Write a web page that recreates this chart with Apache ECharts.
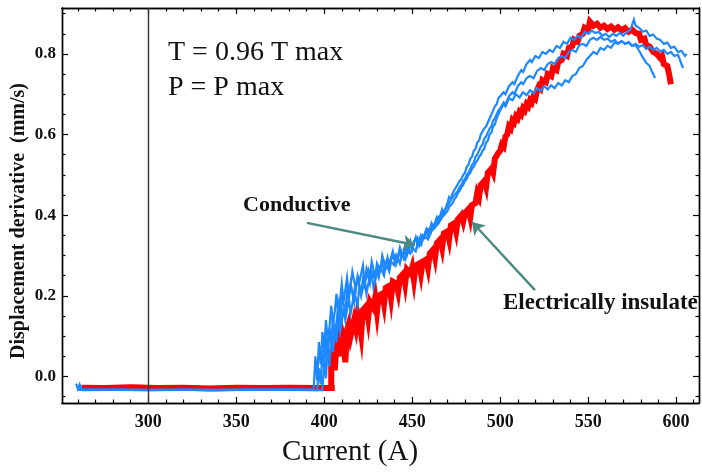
<!DOCTYPE html>
<html>
<head>
<meta charset="utf-8">
<script src="https://cdn.jsdelivr.net/npm/echarts@6/dist/echarts.min.js"></script>
<style>
  * { margin: 0; padding: 0; }
  #chart { width: 702px; height: 473px; background: #fff; }
</style>
</head>
<body>
<div id="chart"></div>
<script>
// axis ranges and ticks
const xMin = 251, xMax = 613;
const yMin = -0.066, yMax = 0.914;
const xTicks = [300, 350, 400, 450, 500, 550, 600];
const yTicks = [0, 0.2, 0.4, 0.6, 0.8];

// electrically insulated run (red)
const insulated = [
  [262,-0.028],[275,-0.029],[290,-0.027],[305,-0.029],[320,-0.028],[335,-0.030],[350,-0.028],[365,-0.029],[380,-0.028],[395,-0.029],[406,-0.029],[404,-0.029],
  [404,0.030],[405,0.070],[406,0.015],[407,0.080],[408,0.100],[409,0.050],[410,0.110],[411,0.090],[412,0.035],[413,0.115],[414,0.130],[415,0.100],
  [417,0.140],[418,0.120],[419,0.155],[420,0.135],[421,0.105],[422,0.165],[424,0.175],[425,0.145],[426,0.185],[428,0.170],[429,0.195],[430,0.160],
  [431,0.200],[433,0.205],[434,0.180],[435,0.220],[437,0.225],[438,0.195],[439,0.235],[441,0.230],[442,0.210],[443,0.245],[445,0.255],[446,0.230],
  [447,0.265],[449,0.255],[450,0.270],[451,0.240],[452,0.275],[454,0.280],[455,0.255],[456,0.285],[458,0.290],[459,0.270],[460,0.305],[462,0.315],
  [463,0.295],[464,0.330],[466,0.340],[467,0.320],[468,0.355],[470,0.360],[471,0.340],[472,0.375],[474,0.380],[475,0.360],[476,0.390],[478,0.400],
  [479,0.385],[480,0.405],[482,0.415],[483,0.395],[484,0.425],[486,0.430],[487,0.455],[488,0.445],[489,0.475],[491,0.485],[492,0.470],[493,0.505],
  [495,0.515],[496,0.505],[497,0.540],[499,0.555],[500,0.560],[501,0.575],[502,0.570],[503,0.595],[504,0.600],[505,0.620],[506,0.615],[507,0.635],
  [508,0.630],[509,0.645],[510,0.640],[511,0.655],[512,0.650],[513,0.665],[514,0.660],[515,0.675],[516,0.670],[517,0.685],[518,0.680],[519,0.695],
  [520,0.690],[521,0.710],[522,0.720],[523,0.715],[524,0.735],[526,0.730],[527,0.750],[529,0.745],[530,0.765],[532,0.760],[533,0.780],[535,0.785],
  [536,0.800],[538,0.795],[539,0.815],[541,0.820],[542,0.835],[544,0.830],[545,0.845],[547,0.850],[548,0.865],[550,0.860],[551,0.880],[553,0.870],
  [555,0.875],[557,0.865],[559,0.870],[561,0.862],[563,0.868],[565,0.860],[567,0.866],[569,0.858],[571,0.864],[573,0.855],[575,0.860],[577,0.852],
  [579,0.850],[580,0.835],[582,0.838],[583,0.822],[585,0.818],[587,0.805],[589,0.800],[591,0.790],[592,0.795],[593,0.775],[595,0.770],[596,0.750],
  [597,0.725]
];

// conductive runs (blue)
const conductiveA = [
  [259,-0.018],[260,-0.031],[261,-0.020],[262,-0.033],[280,-0.033],[300,-0.034],[320,-0.033],[340,-0.034],[360,-0.033],[380,-0.033],[394,-0.033],
  [395,0.050],[396,-0.010],[397,0.085],[398,0.030],[399,0.110],[400,0.060],[401,0.140],[402,0.090],[403,0.120],[404,0.175],[405,0.130],[406,0.160],
  [407,0.205],[408,0.150],[409,0.190],[410,0.230],[411,0.185],[413,0.245],[414,0.200],[415,0.225],[416,0.260],[418,0.215],[419,0.250],[420,0.235],
  [422,0.275],[423,0.230],[425,0.265],[426,0.250],[427,0.285],[429,0.245],[430,0.280],[432,0.265],[433,0.300],[435,0.270],[436,0.290],[437,0.280],
  [439,0.310],[440,0.285],[442,0.300],[443,0.320],[445,0.295],[446,0.325],[448,0.310],[449,0.335],[450,0.320],[452,0.345],[453,0.325],[455,0.350],
  [456,0.340],[458,0.365],[459,0.350],[461,0.380],[462,0.370],[464,0.395],[465,0.385],[467,0.415],[468,0.405],[470,0.430],[471,0.445],[472,0.440],
  [473,0.455],[474,0.455],[475,0.470],[476,0.470],[477,0.485],[478,0.490],[479,0.500],[480,0.505],[481,0.520],[482,0.525],[483,0.540],[484,0.545],
  [485,0.560],[486,0.565],[487,0.580],[488,0.585],[489,0.600],[490,0.600],[491,0.615],[492,0.620],[493,0.630],[494,0.640],[495,0.650],[496,0.660],
  [497,0.670],[498,0.675],[499,0.690],[500,0.695],[502,0.705],[503,0.700],[505,0.720],[507,0.730],[508,0.725],[510,0.745],[512,0.760],[513,0.755],
  [515,0.775],[517,0.785],[518,0.780],[520,0.795],[522,0.790],[524,0.805],[526,0.800],[528,0.810],[530,0.805],[532,0.820],[534,0.815],[536,0.830],
  [538,0.825],[540,0.840],[542,0.835],[544,0.845],[546,0.840],[548,0.855],[550,0.850],[552,0.858],[554,0.852],[556,0.855],[558,0.845],[560,0.850],
  [562,0.842],[564,0.850],[566,0.845],[568,0.852],[570,0.845],[572,0.855],[574,0.860],[576,0.885],[577,0.870],[579,0.865],[581,0.855],[583,0.858],
  [585,0.845],[587,0.848],[589,0.838],[591,0.835],[593,0.825],[595,0.828],[597,0.815],[599,0.818],[601,0.805],[603,0.808],[605,0.795],[606,0.800]
];

const conductiveB = [
  [260,-0.032],[263,-0.034],[300,-0.033],[340,-0.034],[380,-0.033],[396,-0.034],
  [397,0.020],[398,-0.020],[399,0.065],[400,0.020],[401,0.095],[402,0.050],[403,0.120],[404,0.080],[405,0.150],[406,0.100],[407,0.135],[408,0.175],
  [409,0.130],[410,0.195],[412,0.160],[413,0.210],[414,0.190],[415,0.230],[417,0.185],[418,0.225],[419,0.245],[421,0.205],[422,0.240],[423,0.225],
  [424,0.265],[426,0.230],[427,0.260],[429,0.240],[430,0.275],[431,0.255],[433,0.285],[434,0.260],[436,0.295],[437,0.270],[438,0.290],[440,0.300],
  [441,0.280],[443,0.310],[444,0.295],[446,0.320],[447,0.300],[449,0.330],[450,0.315],[451,0.335],[453,0.345],[454,0.325],[456,0.350],[457,0.345],
  [459,0.365],[460,0.360],[462,0.375],[463,0.370],[465,0.395],[466,0.390],[468,0.410],[469,0.415],[470,0.415],[471,0.430],[472,0.430],[473,0.445],
  [474,0.445],[475,0.455],[476,0.460],[477,0.470],[478,0.475],[479,0.485],[480,0.490],[481,0.500],[482,0.505],[483,0.515],[484,0.525],[485,0.530],
  [486,0.545],[487,0.550],[488,0.560],[489,0.570],[490,0.575],[491,0.590],[492,0.595],[493,0.605],[494,0.615],[495,0.620],[496,0.635],[497,0.640],
  [498,0.650],[499,0.660],[500,0.665],[502,0.680],[503,0.675],[505,0.695],[507,0.705],[508,0.700],[510,0.720],[512,0.730],[513,0.725],[515,0.740],
  [517,0.745],[519,0.740],[521,0.758],[523,0.765],[525,0.760],[527,0.775],[529,0.780],[531,0.775],[533,0.790],[535,0.795],[537,0.790],[539,0.805],
  [541,0.810],[543,0.805],[545,0.822],[547,0.825],[549,0.820],[551,0.835],[553,0.840],[555,0.835],[557,0.842],[559,0.835],[561,0.838],[563,0.830],
  [565,0.835],[567,0.826],[569,0.832],[571,0.825],[573,0.830],[575,0.820],[577,0.825],[579,0.818],[581,0.822],[583,0.812],[585,0.818],[587,0.810],
  [589,0.815],[591,0.806],[593,0.810],[595,0.800],[597,0.805],[599,0.795],[601,0.798],[602,0.788],[603,0.775],[604,0.765]
];

const conductiveC = [
  [260,-0.033],[300,-0.034],[350,-0.033],[399,-0.034],
  [400,0.040],[401,-0.005],[402,0.075],[403,0.025],[404,0.105],[405,0.060],[406,0.125],[407,0.085],[408,0.150],[409,0.110],[410,0.135],[411,0.170],
  [412,0.140],[414,0.195],[415,0.155],[416,0.180],[417,0.210],[419,0.175],[420,0.225],[421,0.200],[423,0.240],[424,0.205],[425,0.230],[427,0.255],
  [428,0.220],[430,0.260],[431,0.245],[432,0.270],[434,0.250],[435,0.280],[437,0.260],[438,0.285],[440,0.275],[441,0.300],[443,0.280],[444,0.305],
  [446,0.290],[447,0.315],[449,0.305],[450,0.320],[452,0.310],[453,0.330],[455,0.325],[456,0.340],[458,0.345],[459,0.340],[461,0.360],[462,0.365],
  [464,0.375],[465,0.380],[467,0.395],[468,0.395],[470,0.410],[471,0.420],[472,0.425],[473,0.430],[474,0.440],[475,0.445],[476,0.455],[477,0.460],
  [478,0.470],[479,0.475],[480,0.485],[481,0.490],[482,0.500],[483,0.505],[484,0.515],[485,0.520],[486,0.530],[487,0.535],[488,0.545],[489,0.550],
  [490,0.560],[491,0.565],[492,0.580],[493,0.585],[494,0.600],[495,0.605],[496,0.620],[497,0.625],[498,0.640],[499,0.650],[500,0.660],[501,0.668],
  [502,0.675],[503,0.670],[505,0.690],[507,0.685],[509,0.700],[511,0.692],[513,0.705],[515,0.698],[517,0.710],[519,0.702],[521,0.715],[523,0.708],
  [525,0.720],[527,0.712],[529,0.722],[531,0.715],[533,0.728],[535,0.722],[537,0.735],[539,0.730],[541,0.745],[543,0.750],[545,0.765],[547,0.770],
  [549,0.785],[551,0.795],[553,0.805],[555,0.800],[557,0.815],[559,0.810],[561,0.820],[563,0.815],[565,0.828],[567,0.825],[569,0.832],[571,0.825],
  [573,0.828],[575,0.820],[577,0.822],[579,0.808],[581,0.792],[582,0.795],[583,0.778],[585,0.770],[586,0.758],[587,0.750],[588,0.740]
];

// annotation arrows, [tail, head] in data units
const arrowConductive = [[390.2, 0.381], [451.6, 0.326]];
const arrowInsulated = [[519.8, 0.214], [484.0, 0.383]];

const RED = "#ff0000";
const BLUE = "#1e88ff";
const ARROW = "#4a8a80";
const serif = "Liberation Serif";

// minor tick positions (no labels)
const xMinor = [];
for (let v = 260; v <= 610; v += 10) if (v % 50 !== 0) xMinor.push(v);
const yMinor = [];
for (let i = -1; i <= 18; i++) { const v = +(i * 0.05).toFixed(2); if (i % 4 !== 0) yMinor.push(v); }

function xAxisDef(pos, vals, len, labels) {
  return {
    type: "value", position: pos, min: xMin, max: xMax,
    axisLine: { show: true, onZero: false, lineStyle: { color: "#000", width: 1.4 } },
    axisTick: { show: true, inside: true, length: len, customValues: vals, lineStyle: { color: "#000", width: 1.2 } },
    axisLabel: {
      show: labels, customValues: vals, margin: 10,
      fontFamily: serif, fontWeight: "bold", fontSize: 18, color: "#111"
    },
    splitLine: { show: false }
  };
}
function yAxisDef(pos, vals, len, labels) {
  return {
    type: "value", position: pos, min: yMin, max: yMax,
    axisLine: { show: true, onZero: false, lineStyle: { color: "#000", width: 1.4 } },
    axisTick: { show: true, inside: true, length: len, customValues: vals, lineStyle: { color: "#000", width: 1.2 } },
    axisLabel: {
      show: labels, customValues: vals, margin: 6,
      formatter: (v) => v.toFixed(1),
      fontFamily: serif, fontWeight: "bold", fontSize: 17, color: "#111"
    },
    splitLine: { show: false }
  };
}

const chart = echarts.init(document.getElementById("chart"), null, { renderer: "canvas" });

const lineSeries = (data, color, width, extra) => Object.assign({
  type: "line", data: data, showSymbol: false, symbol: "none",
  xAxisIndex: 0, yAxisIndex: 0, animation: false,
  lineStyle: { color: color, width: width, join: "miter" }
}, extra || {});

const option = {
  animation: false,
  grid: { left: 62, right: 3, top: 8, bottom: 70 },
  xAxis: [
    xAxisDef("bottom", xTicks, 6, true),
    xAxisDef("bottom", xMinor, 3.5, false),
    xAxisDef("top", xTicks, 6, false),
    xAxisDef("top", xMinor, 3.5, false)
  ],
  yAxis: [
    yAxisDef("left", yTicks, 6, true),
    yAxisDef("left", yMinor, 3.5, false),
    yAxisDef("right", yTicks, 6, false),
    yAxisDef("right", yMinor, 3.5, false)
  ],
  series: [
    lineSeries(insulated, RED, 6, {
      markLine: {
        silent: true, symbol: "none", animation: false,
        label: { show: false },
        lineStyle: { color: "#333", width: 1.4, type: "solid" },
        data: [{ xAxis: 300 }]
      }
    }),
    lineSeries(conductiveA, BLUE, 2.2),
    lineSeries(conductiveB, BLUE, 2.2),
    lineSeries(conductiveC, BLUE, 2.2, {
      markLine: {
        silent: true, animation: false,
        symbol: ["none", "arrow"], symbolSize: 12,
        label: { show: false },
        itemStyle: { color: ARROW },
        lineStyle: { color: ARROW, width: 2.4, type: "solid" },
        data: [
          [{ coord: arrowConductive[0] }, { coord: arrowConductive[1] }],
          [{ coord: arrowInsulated[0] }, { coord: arrowInsulated[1] }]
        ]
      }
    })
  ],
  graphic: [
    { type: "text", x: 168, y: 53, style: { text: "T = 0.96 T max", font: "28px 'Liberation Serif'", fill: "#111", verticalAlign: "middle" } },
    { type: "text", x: 168, y: 88, style: { text: "P = P max", font: "28px 'Liberation Serif'", fill: "#111", verticalAlign: "middle" } },
    { type: "text", x: 243, y: 205, style: { text: "Conductive", font: "bold 22px 'Liberation Serif'", fill: "#111", verticalAlign: "middle" } },
    { type: "text", x: 503, y: 303, style: { text: "Electrically insulate", font: "bold 23px 'Liberation Serif'", fill: "#111", verticalAlign: "middle" } },
    { type: "text", x: 350, y: 452, style: { text: "Current (A)", font: "29px 'Liberation Serif'", fill: "#111", align: "center", verticalAlign: "middle" } },
    { type: "text", x: 19, y: 221, rotation: Math.PI / 2,
      style: { text: "Displacement derivative  (mm/s)", font: "bold 20px 'Liberation Serif'", fill: "#111", align: "center", verticalAlign: "middle" } }
  ]
};

chart.setOption(option);
</script>
</body>
</html>
